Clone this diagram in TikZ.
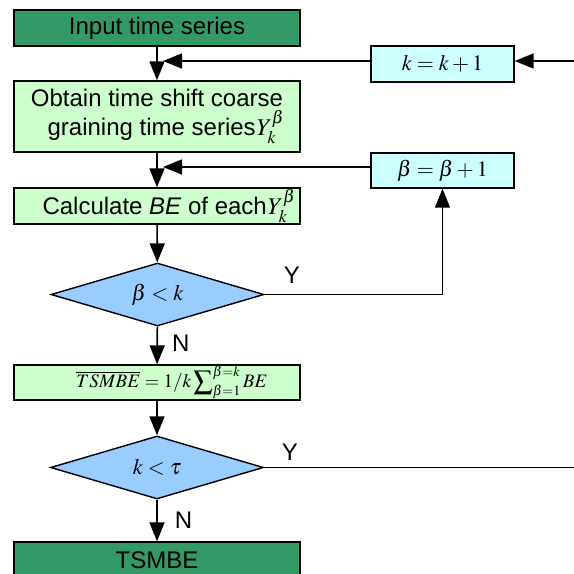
\documentclass[tikz,border=0pt]{standalone}
\usepackage{mathptmx}
\usepackage{fontspec}
\setmainfont{Liberation Sans}
\usetikzlibrary{shapes.geometric,arrows.meta}

\definecolor{darkbox}{HTML}{339966}
\definecolor{lightbox}{HTML}{CCFFCC}
\definecolor{cyanbox}{HTML}{CCFFFF}
\definecolor{decbox}{HTML}{99CCFF}

\tikzset{
  base/.style={draw=black, line width=1.4pt, inner sep=0pt, font=\fontsize{24}{29}\selectfont},
  procbox/.style={base, rectangle, minimum width=286pt, fill=lightbox},
  termbox/.style={base, rectangle, minimum width=286pt, minimum height=36pt, fill=darkbox},
  incbox/.style={base, rectangle, minimum width=143pt, fill=cyanbox},
  decision/.style={base, diamond, aspect=3.4, minimum width=213pt, minimum height=63pt,
    fill=decbox, font=\fontsize{22}{26}\selectfont},
  flow/.style={line width=1.6pt, -{Triangle[length=19pt,width=15pt]}},
  wire/.style={line width=1.6pt},
  lbl/.style={font=\fontsize{24}{28}\selectfont, inner sep=0pt}
}

\begin{document}
\begin{tikzpicture}[x=1pt,y=-1pt]
\useasboundingbox (0,0) rectangle (574,574);
\clip (0,0) rectangle (574,574);
\fill[white] (0,0) rectangle (574,574);

% main column
\node[termbox] (input) at (157,28) {Input time series};
\node[procbox, minimum height=71pt, align=center] (obtain) at (157,116.5)
  {Obtain time shift coarse\\\hspace*{18pt}graining time series\kern1pt$Y_k^{\beta}$};
\node[procbox, minimum height=36pt] (calc) at (157,206)
  {\hspace*{24pt}Calculate \textit{BE} of each\kern1pt$Y_k^{\beta}$};
\node[decision] (d1) at (157.5,294.5) {$\beta < k$};
\node[procbox, minimum height=35pt, font=\fontsize{19}{22}\selectfont] (avg) at (157,382.5)
  {\hspace*{30pt}$\overline{TSMBE} = 1/k\displaystyle\sum\nolimits_{\beta=1}^{\beta=k} BE$};
\node[decision] (d2) at (157,467.5) {$k < \tau$};
\node[termbox] (out) at (157,560) {TSMBE};

% counter boxes on the right
\node[incbox, minimum height=36pt, font=\fontsize{22}{26}\selectfont] (kbox) at (442.5,64) {$k = k + 1$};
\node[incbox, minimum height=35pt, font=\fontsize{22}{26}\selectfont] (bbox) at (442.5,170.5) {$\beta = \beta + 1$};

% joins on the main column and loose ends at the edge
\coordinate (kjoin) at (163,61);
\coordinate (bjoin) at (163,167);
\coordinate (kback) at (574,61);
\coordinate (kout) at (574,467.5);

% downward flow
\draw[flow] (input) -- (obtain);
\draw[flow] (obtain) -- (calc);
\draw[flow] (calc) -- (d1);
\draw[flow] (d1) -- node[lbl, right=14pt, pos=0.45] {N} (avg);
\draw[flow] (avg) -- (d2);
\draw[flow] (d2) -- node[lbl, right=17pt, pos=0.5] {N} (out);

% beta loop
\draw[flow] (d1.east) -| (bbox.south);
\node[lbl] (y1) at (292,275) {Y};
\draw[flow] (bbox.west |- bjoin) -- (bjoin);

% k loop
\draw[wire] (d2.east) -- (kout);
\node[lbl] (y2) at (290,452) {Y};
\draw[flow] (kback) -- (kbox.east |- kback);
\draw[flow] (kbox.west |- kjoin) -- (kjoin);
\end{tikzpicture}
\end{document}
